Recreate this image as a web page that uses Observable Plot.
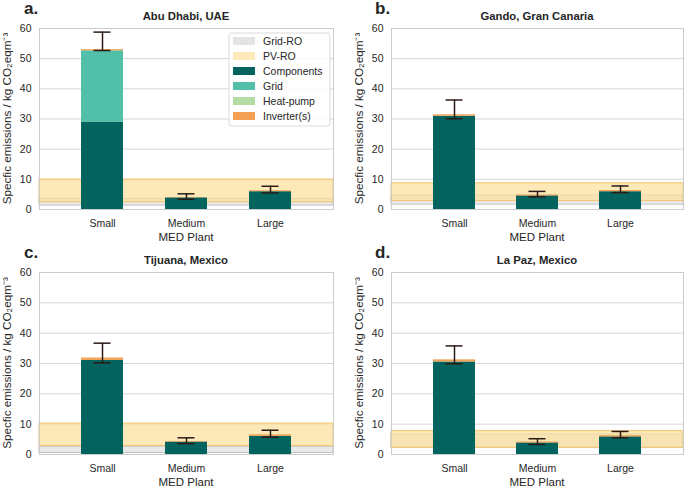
<!DOCTYPE html>
<html><head><meta charset="utf-8">
<script src="https://cdn.jsdelivr.net/npm/d3@7"></script>
<script src="https://cdn.jsdelivr.net/npm/@observablehq/plot@0.6"></script>
<style>
body{margin:0;background:#fff;}
#wrap{position:relative;width:685px;height:487px;overflow:hidden;font-family:"Liberation Sans",Arial,sans-serif;}
#wrap > svg{position:absolute;}
</style></head><body>
<svg width="0" height="0" style="position:absolute">
  <defs>
    <pattern id="hatchPV" patternUnits="userSpaceOnUse" width="12" height="12">
      <rect width="12" height="12" fill="#fcde9a"/>
      <path d="M0,0L12,12M-6,6L6,18M6,-6L18,6" stroke="#e6a93e" stroke-width="0.9"/>
    </pattern>
    <pattern id="hatchGrid" patternUnits="userSpaceOnUse" width="12" height="12">
      <rect width="12" height="12" fill="#e9e9e9"/>
      <path d="M0,12L12,0M-6,6L6,-6M6,18L18,6" stroke="#a8a8a8" stroke-width="0.9"/>
    </pattern>
  </defs>
</svg>
<div id="wrap"></div>
<script>
// ---------- data ----------
const plants = ["Small", "Medium", "Large"];
const sites = ["Abu Dhabi, UAE", "Gando, Gran Canaria", "Tijuana, Mexico", "La Paz, Mexico"];
const letters = ["a.", "b.", "c.", "d."];
const parts = ["Components", "Grid", "Heat-pump", "Inverter(s)"];
const partColors = ["#03635f", "#52c0a9", "#b6dca6", "#f2a155"];
const components = [[29.0, 3.85, 5.9], [30.9, 4.5, 5.9], [31.0, 4.1, 6.0], [30.5, 3.8, 5.8]];
const grid       = [[23.6, 0, 0], [0, 0, 0], [0, 0, 0], [0, 0, 0]];
const heatPump   = [[0, 0, 0], [0, 0, 0], [0, 0, 0], [0, 0, 0]];
const inverters  = [[0.4, 0.1, 0.3], [0.5, 0.3, 0.4], [0.8, 0.2, 0.5], [0.7, 0.3, 0.4]];
const errLow  = [[52.7, 3.4, 5.5], [30.1, 4.2, 5.6], [30.2, 3.6, 5.7], [29.9, 3.3, 5.5]];
const errHigh = [[58.8, 5.2, 7.7], [36.3, 6.0, 7.8], [36.7, 5.5, 8.0], [35.8, 5.2, 7.6]];
const pvRO   = [[2.4, 9.9], [2.8, 8.7], [2.8, 10.2], [2.2, 7.7]];
const gridRO = [[1.3, 3.5], [1.6, 4.6], [0.5, 2.6], [2.2, 6.6]];
const yTicks = [0, 10, 20, 30, 40, 50, 60];
const legendLabels = ["Grid-RO", "PV-RO", "Components", "Grid", "Heat-pump", "Inverter(s)"];
const legendColors = ["#e3e3e3", "#fde8b8", "#03635f", "#52c0a9", "#b6dca6", "#f2a155"];
const yLabel = "Specfic emissions / kg CO₂eqm⁻³";
const xLabel = "MED Plant";

// ---------- layout ----------
const layouts = [
  {left: 0,   top: 0,   w: 342, h: 243, ml: 39, mr: 9, mt: 28, mb: 34, ylx: 6},
  {left: 342, top: 0,   w: 343, h: 243, ml: 49, mr: 2, mt: 28, mb: 34, ylx: 16},
  {left: 0,   top: 244, w: 342, h: 243, ml: 39, mr: 9, mt: 28, mb: 33, ylx: 6},
  {left: 342, top: 244, w: 343, h: 243, ml: 49, mr: 2, mt: 28, mb: 33, ylx: 16}
];
const wrap = document.getElementById("wrap");
const FONT = "Liberation Sans, Arial, sans-serif";
const ink = "#262626";
const errColor = "#2b1b17";

function makePanel(i, L) {
  const rows = [];
  plants.forEach((p, j) => {
    rows.push({plant: p, part: "Components", value: components[i][j]});
    rows.push({plant: p, part: "Grid", value: grid[i][j]});
    rows.push({plant: p, part: "Heat-pump", value: heatPump[i][j]});
    rows.push({plant: p, part: "Inverter(s)", value: inverters[i][j]});
  });
  const errs = plants.map((p, j) => ({plant: p, lo: errLow[i][j], hi: errHigh[i][j]}));
  const pv = [{lo: pvRO[i][0], hi: pvRO[i][1]}];
  const gr = [{lo: gridRO[i][0], hi: gridRO[i][1]}];
  const svg = Plot.plot({
    width: L.w, height: L.h,
    marginLeft: L.ml, marginRight: L.mr, marginTop: L.mt, marginBottom: L.mb,
    style: {fontFamily: FONT, fontSize: "10.5px", color: ink, background: "transparent", overflow: "visible"},
    x: {domain: plants, padding: 0.5, label: null, tickSize: 0, tickPadding: 10},
    y: {domain: [0, 60], ticks: yTicks, label: null, tickSize: 0, tickPadding: 8},
    color: {domain: parts, range: partColors},
    marks: [
      Plot.ruleY(yTicks.slice(1), {stroke: "#d6d6d6", strokeWidth: 1}),
      Plot.rect(gr, {y1: "lo", y2: "hi", fill: "#e9e9e9", stroke: "#c2c2c2", strokeWidth: 1, ariaLabel: "grid-ro"}),
      Plot.rect(pv, {y1: "lo", y2: "hi", fill: "#fcde9a", fillOpacity: 0.7, stroke: "#f3c46e", strokeWidth: 1, ariaLabel: "pv-ro"}),
      Plot.barY(rows, {x: "plant", y: "value", fill: "part"}),
      Plot.ruleX(errs, {x: "plant", y1: "lo", y2: "hi", stroke: errColor, strokeWidth: 1.5}),
      Plot.tickY(errs, {x: "plant", y: "lo", stroke: errColor, strokeWidth: 1.5, insetLeft: 12.5, insetRight: 12.5}),
      Plot.tickY(errs, {x: "plant", y: "hi", stroke: errColor, strokeWidth: 1.5, insetLeft: 12.5, insetRight: 12.5}),
      Plot.frame({stroke: "#cccccc"})
    ]
  });
  svg.querySelectorAll('g[aria-label="pv-ro"] rect').forEach(r => r.setAttribute("fill", "url(#hatchPV)"));
  svg.querySelectorAll('g[aria-label="grid-ro"] rect').forEach(r => r.setAttribute("fill", "url(#hatchGrid)"));
  svg.style.left = L.left + "px";
  svg.style.top = L.top + "px";
  wrap.appendChild(svg);
}
layouts.forEach((L, i) => makePanel(i, L));

// ---------- overlay: titles, panel letters, axis labels, legend ----------
const NS = "http://www.w3.org/2000/svg";
const ov = document.createElementNS(NS, "svg");
ov.setAttribute("width", 685); ov.setAttribute("height", 487);
ov.style.left = "0px"; ov.style.top = "0px";
ov.setAttribute("font-family", FONT);
wrap.appendChild(ov);
function txt(x, y, s, attrs) {
  const t = document.createElementNS(NS, "text");
  t.setAttribute("x", x); t.setAttribute("y", y);
  t.setAttribute("fill", ink);
  for (const k in attrs) t.setAttribute(k, attrs[k]);
  t.textContent = s;
  ov.appendChild(t);
  return t;
}
layouts.forEach((L, i) => {
  const x0 = L.left + L.ml, x1 = L.left + L.w - L.mr;
  const y0 = L.top + L.mt, y1 = L.top + L.h - L.mb;
  const cx = (x0 + x1) / 2;
  txt(cx, L.top + 16, sites[i], {"text-anchor": "middle", "dominant-baseline": "central", "font-size": "11.3px", "font-weight": "bold"});
  txt(L.left + (i % 2 ? 33 : 24), L.top + 13.5, letters[i], {"font-size": "17px", "font-weight": "bold"});
  txt(cx, y1 + 28, xLabel, {"text-anchor": "middle", "dominant-baseline": "central", "font-size": "11.5px"});
  const yc = (y0 + y1) / 2, xl = L.left + L.ylx;
  txt(0, 0, yLabel, {"text-anchor": "middle", "dominant-baseline": "central", "font-size": "11.7px",
    transform: `translate(${xl},${yc}) rotate(-90)`, x: 0, y: 0});
});
// legend (panel a)
const lg = {x: 229, y: 33, w: 101, h: 93};
const box = document.createElementNS(NS, "rect");
box.setAttribute("x", lg.x); box.setAttribute("y", lg.y);
box.setAttribute("width", lg.w); box.setAttribute("height", lg.h);
box.setAttribute("rx", 2.5); box.setAttribute("fill", "#ffffff"); box.setAttribute("fill-opacity", 0.85);
box.setAttribute("stroke", "#d0d0d0"); box.setAttribute("stroke-width", 0.8);
ov.appendChild(box);
legendLabels.forEach((lab, k) => {
  const cy = 41 + 15 * k;
  const r = document.createElementNS(NS, "rect");
  r.setAttribute("x", 233); r.setAttribute("y", cy - 4);
  r.setAttribute("width", 22); r.setAttribute("height", 8);
  r.setAttribute("fill", legendColors[k]);
  ov.appendChild(r);
  txt(263, cy, lab, {"dominant-baseline": "central", "font-size": "10.5px"});
});
</script>
</body></html>
